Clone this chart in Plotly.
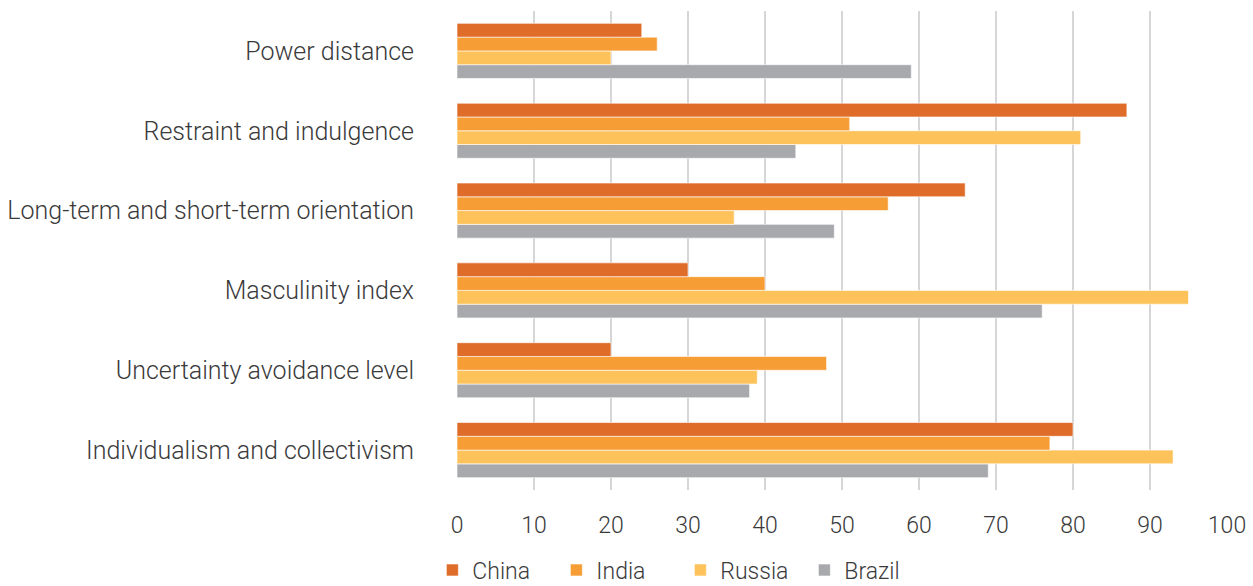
import plotly.graph_objects as go

# Hofstede cultural dimensions by country (scores 0-100)
dimensions = [
    "Individualism and collectivism",
    "Uncertainty avoidance level",
    "Masculinity index",
    "Long-term and short-term orientation",
    "Restraint and indulgence",
    "Power distance",
]
china = [80, 20, 30, 66, 87, 24]
india = [77, 48, 40, 56, 51, 26]
russia = [93, 39, 95, 36, 81, 20]
brazil = [69, 38, 76, 49, 44, 59]

x_ticks = [0, 10, 20, 30, 40, 50, 60, 70, 80, 90, 100]

series = [
    ("Brazil", brazil, "#A8A9AC"),
    ("Russia", russia, "#FDC35A"),
    ("India", india, "#F79D35"),
    ("China", china, "#DF6C29"),
]

fig = go.Figure()
for name, values, color in series:
    fig.add_trace(go.Bar(
        y=dimensions,
        x=values,
        name=name,
        orientation="h",
        marker=dict(color=color, line=dict(color="rgba(255,255,255,0.6)", width=1)),
    ))

font_family = "Roboto, 'Open Sans', sans-serif"
text_color = "#3a3a3a"

fig.update_layout(
    width=1253,
    height=586,
    barmode="group",
    bargap=0.31,
    bargroupgap=0,
    plot_bgcolor="white",
    paper_bgcolor="white",
    margin=dict(l=457, r=26, t=11, b=96, autoexpand=False),
    font=dict(family=font_family, size=24, color=text_color, weight=300),
    xaxis=dict(
        range=[0, 100],
        tickvals=x_ticks,
        ticktext=[str(v) for v in x_ticks],
        showgrid=True,
        gridcolor="#D6D6D6",
        gridwidth=2,
        zeroline=False,
        showline=False,
        automargin=False,
        ticklabelstandoff=19,
        tickfont=dict(size=23, color=text_color, weight=300),
        fixedrange=True,
    ),
    yaxis=dict(
        categoryorder="array",
        categoryarray=dimensions,
        showgrid=False,
        zeroline=False,
        showline=False,
        automargin=False,
        ticklabelstandoff=42,
        tickfont=dict(size=25, color=text_color, weight=300),
        fixedrange=True,
    ),
    legend=dict(
        orientation="h",
        traceorder="reversed",
        x=-0.032,
        xanchor="left",
        y=-0.212,
        yanchor="bottom",
        font=dict(size=23, color=text_color, weight=300),
        entrywidth=79,
        entrywidthmode="pixels",
        itemwidth=30,
    ),
)

fig.write_html("out.html")
